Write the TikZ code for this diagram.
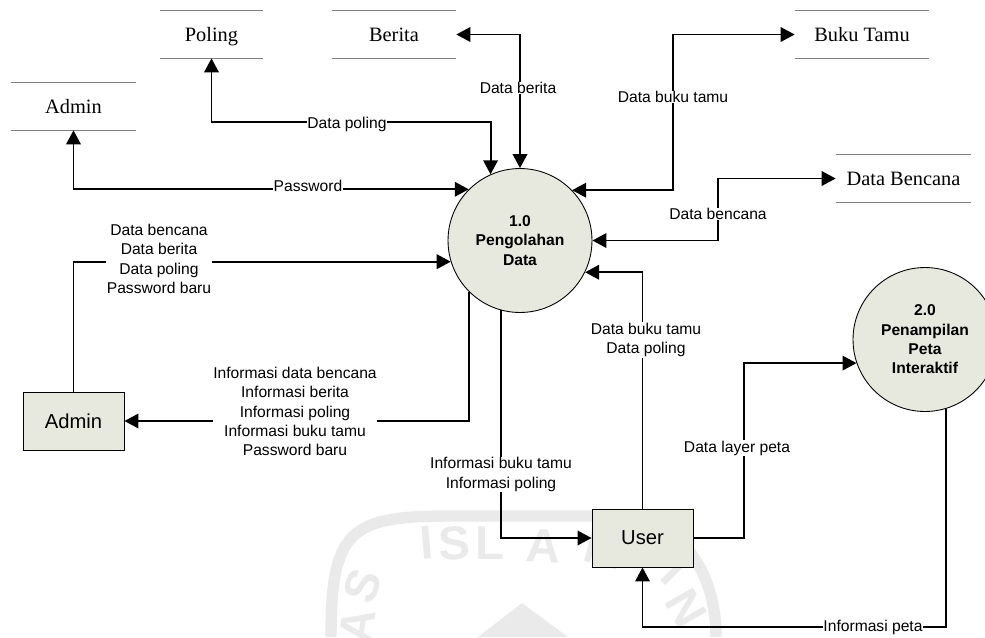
\documentclass[tikz,border=0pt]{standalone}
\usepackage{fontspec}
\setmainfont{Liberation Sans}
\newfontfamily\storefont{Liberation Serif}
\usetikzlibrary{arrows.meta}
\definecolor{boxfill}{RGB}{232,233,222}
\definecolor{storeline}{RGB}{128,128,128}
\definecolor{markgray}{RGB}{234,234,234}
\begin{document}
\begin{tikzpicture}[x=0.02cm,y=-0.02cm,
	process/.style={circle, draw, line width=0.5pt, fill=boxfill, minimum size=2.88cm, inner sep=0mm, align=center, font=\fontsize{8.9}{11}\selectfont\bfseries},
	entity/.style={rectangle, draw, line width=0.5pt, fill=boxfill, minimum width=2.02cm, minimum height=1.16cm, inner sep=0mm, font=\fontsize{11.5}{13}\selectfont},
	store/.style={rectangle, minimum height=0.94cm, inner sep=0mm, text height=9.7pt, text depth=2pt, font=\fontsize{11.6}{13}\storefont},
	flow/.style={line width=1.1pt, -{Triangle[length=2.8mm,width=2.9mm]}},
	biflow/.style={line width=1.1pt, {Triangle[length=2.8mm,width=2.9mm]}-{Triangle[length=2.8mm,width=2.9mm]}},
	lbl/.style={fill=white, inner sep=0.4pt, align=center, font=\fontsize{8.9}{11}\selectfont},
	markletter/.style={text=markgray, inner sep=0mm, font=\fontsize{27}{27}\selectfont\bfseries}]
	\useasboundingbox (0,0) rectangle (985,637);
	\clip (0,0) rectangle (985,637);
	% watermark
	\draw[markgray, line width=6.5pt] (331,637) .. controls (331,530) and (350,516) .. (450,516) -- (620,516) .. controls (680,520) and (716,570) .. (716,637);
	\fill[markgray] (522,603)--(478,637)--(568,637)--cycle;
	\foreach \ch/\px/\py/\rot/\n in {I/427/543/5/a,S/454/543/3/b,L/490/543/0/c,A/543/546/-3/d,M/605/550/-15/e,I/675/572/-45/f,N/686/608/-60/g,S/363/586/70/h,A/357/626/80/i}
		\node[markletter, rotate=\rot] at (\px,\py) (mark\n) {\ch};
	% processes and entities
	\node[process] at (520,240.5) (proc1) {1.0\\Pengolahan\\Data};
	\node[process] at (925,339.5) (proc2) {2.0\\Penampilan\\Peta\\Interaktif};
	\node[entity] at (73.5,421) (admin) {Admin};
	\node[entity] at (642.5,538) (user) {User};
	% data stores
	\node[store, minimum width=2.06cm] at (211.5,34.5) (poling) {Poling};
	\node[store, minimum width=2.48cm] at (394,34.5) (berita) {Berita};
	\node[store, minimum width=2.5cm] at (73.5,106.5) (dbadmin) {Admin};
	\node[store, minimum width=2.68cm] at (862,34.5) (bukutamu) {Buku Tamu};
	\node[store, minimum width=2.7cm] at (903.5,178.5) (bencana) {Data Bencana};
	\foreach \s in {poling,berita,dbadmin,bukutamu,bencana} {
		\draw[storeline, line width=0.8pt] (\s.north west)--(\s.north east);
		\draw[storeline, line width=0.8pt] (\s.south west)--(\s.south east);
	}
	% flows
	\draw[biflow] (poling.south)--(211.5,122)-|(proc1.114);
	\draw[biflow] (dbadmin.south)|-(proc1.135.5);
	\draw[biflow] (berita.east)-|(proc1.north);
	\draw[biflow] (bukutamu.west)-|(673,100)|-(proc1.44.5);
	\draw[biflow] (bencana.west)-|(718,200)|-(proc1.east);
	\draw[flow] (admin.north)|-(proc1.197.4);
	\draw[flow] (proc1.225)|-(admin.east);
	\draw[flow] (proc1.-105)|-(user.west);
	\draw[flow] (user.north)|-(proc1.-26);
	\draw[flow] (user.east)-|(744,400)|-(proc2.199);
	\draw[flow] (proc2.-73)|-(642.5,627)--(user.south);
	% labels
	\node[lbl] at (347,124) (l1) {Data poling};
	\node[lbl] at (308,186) (l2) {Password};
	\node[lbl] at (518,88) (l3) {Data berita};
	\node[lbl] at (673,97) (l4) {Data buku tamu};
	\node[lbl] at (718,214) (l5) {Data bencana};
	\node[lbl] at (159,259) (l6) {Data bencana\\Data berita\\Data poling\\Password baru};
	\node[lbl] at (295,411.5) (l7) {Informasi data bencana\\Informasi berita\\Informasi poling\\Informasi buku tamu\\Password baru};
	\node[lbl] at (501,474.5) (l8) {Informasi buku tamu\\Informasi poling};
	\node[lbl] at (646,340) (l9) {Data buku tamu\\Data poling};
	\node[lbl] at (737,448) (l10) {Data layer peta};
	\node[lbl] at (873,627) (l11) {Informasi peta};
\end{tikzpicture}
\end{document}
